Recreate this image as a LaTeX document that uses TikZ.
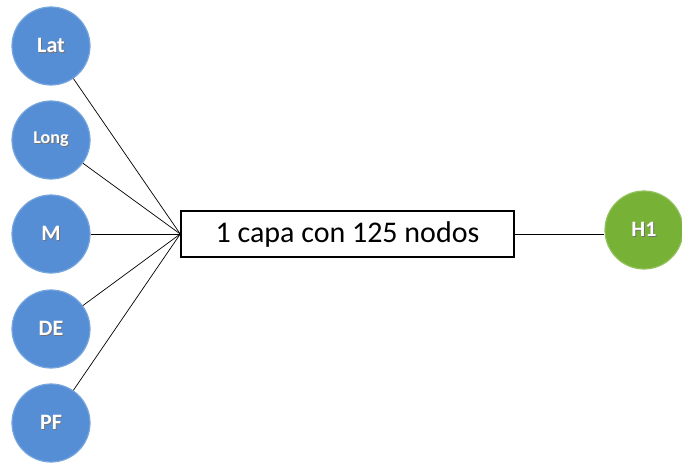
\documentclass[tikz,border=0pt]{standalone}
\usepackage{fontspec}
\setmainfont{Carlito}
\definecolor{nblue}{HTML}{558ED5}
\definecolor{ngreen}{HTML}{77B236}
\newcommand{\shtxt}[1]{\makebox[0pt][l]{\hspace{0.9pt}\raisebox{-0.9pt}{\textcolor{black!55}{#1}}}#1}
\begin{document}
\begin{tikzpicture}[x=1pt,y=-1pt,
  inp/.style={circle,minimum size=78pt,inner sep=0pt,fill=nblue,
    draw=nblue!80!white,line width=1.2pt,
    font=\bfseries\fontsize{22}{22}\selectfont,text=white},
  outp/.style={inp,fill=ngreen,draw=ngreen!80!white},
  hbox/.style={draw,line width=1.5pt,minimum width=333pt,minimum height=46pt,inner sep=0pt,
    font=\fontsize{30}{30}\selectfont},
  conn/.style={line width=0.7pt}]
\useasboundingbox (0,0) rectangle (682,463);
\node[inp] (lat) at (51,46) {\shtxt{Lat}};
\node[inp,font=\bfseries\fontsize{18}{18}\selectfont] (long) at (51,140) {\shtxt{Long}};
\node[inp] (m) at (51,234) {\shtxt{M}};
\node[inp] (de) at (51,329) {\shtxt{DE}};
\node[inp] (pf) at (51,423) {\shtxt{PF}};
\node[outp] (h1) at (644,230) {\shtxt{H1}};
\node[hbox] (box) at (347.5,234) {1 capa con 125 nodos};
\foreach \n in {lat,long,m,de,pf} \draw[conn] (\n) -- (box.west);
\draw[conn] (box.east) -- (box.east -| h1.west);
\end{tikzpicture}
\end{document}
